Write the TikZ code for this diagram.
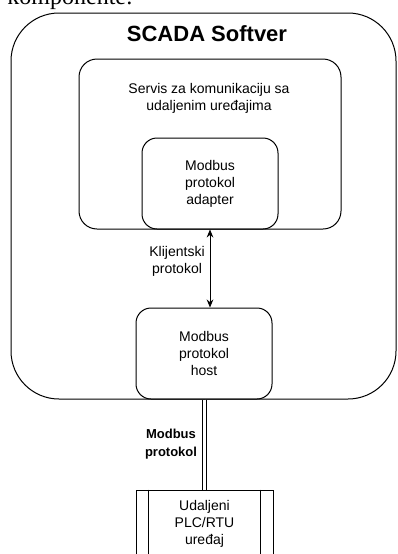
\documentclass[tikz,border=0pt]{standalone}
\usepackage{fontspec}
\setmainfont{Liberation Sans}
\newfontfamily\docfont{Liberation Serif}
\usetikzlibrary{positioning, arrows.meta}

\tikzset{
  box/.style={draw, line width=0.75pt, inner sep=0pt, align=center, font=\fontsize{10.5}{12.75}\selectfont},
  txt/.style={inner sep=0pt, align=center, font=\fontsize{10.5}{12.75}\selectfont}
}

\begin{document}
\begin{tikzpicture}[x=0.75pt, y=-0.75pt]
    \useasboundingbox (0,0) rectangle (397,554);
    \clip (0,0) rectangle (397,554);

    \node[anchor=base east, inner sep=0pt, font=\docfont\fontsize{18}{20}\selectfont] (doc) at (133,4) {komponente:};

    \node[box, rounded corners=36pt, minimum width=288.75pt, minimum height=289.5pt] (scada) at (203.5,206) {};
    \node[txt, font=\bfseries\fontsize{16.5}{18}\selectfont] (title) at (207,33.5) {SCADA Softver};

    \node[box, rounded corners=13.5pt, minimum width=196.5pt, minimum height=127.5pt] (servis) at (210,144) {};
    \node[txt] (servistxt) at (209,98.5) {Servis za komunikaciju sa\\udaljenim ure\dj ajima};

    \node[box, rounded corners=11.25pt, minimum width=102pt, minimum height=68.25pt] (adapter) at (210,183.5) {Modbus\\protokol\\adapter};
    \node[box, rounded corners=11.25pt, minimum width=102pt, minimum height=68.25pt] (host) at (204,353.5) {Modbus\\protokol\\host};
    \node[box, minimum width=102.75pt, minimum height=51pt] (device) at (204.5,524) {Udaljeni\\PLC/RTU\\ure\dj aj};
    \draw[line width=0.75pt] ([xshift=9.75pt]device.north west) -- ([xshift=9.75pt]device.south west);
    \draw[line width=0.75pt] ([xshift=-9.75pt]device.north east) -- ([xshift=-9.75pt]device.south east);

    \draw[line width=0.75pt, {Stealth[length=6pt,width=5pt]}-{Stealth[length=6pt,width=5pt]}] (adapter.south) -- (adapter.south |- host.north);
    \node[txt] (klijent) at (177,261.5) {Klijentski\\protokol};

    \draw[line width=0.75pt, double, double distance=2.25pt] (host.south) -- (host.south |- device.north);
    \node[txt, font=\bfseries\fontsize{9.75}{13.5}\selectfont] (modbus) at (171,444) {Modbus\\protokol};

\end{tikzpicture}
\end{document}
